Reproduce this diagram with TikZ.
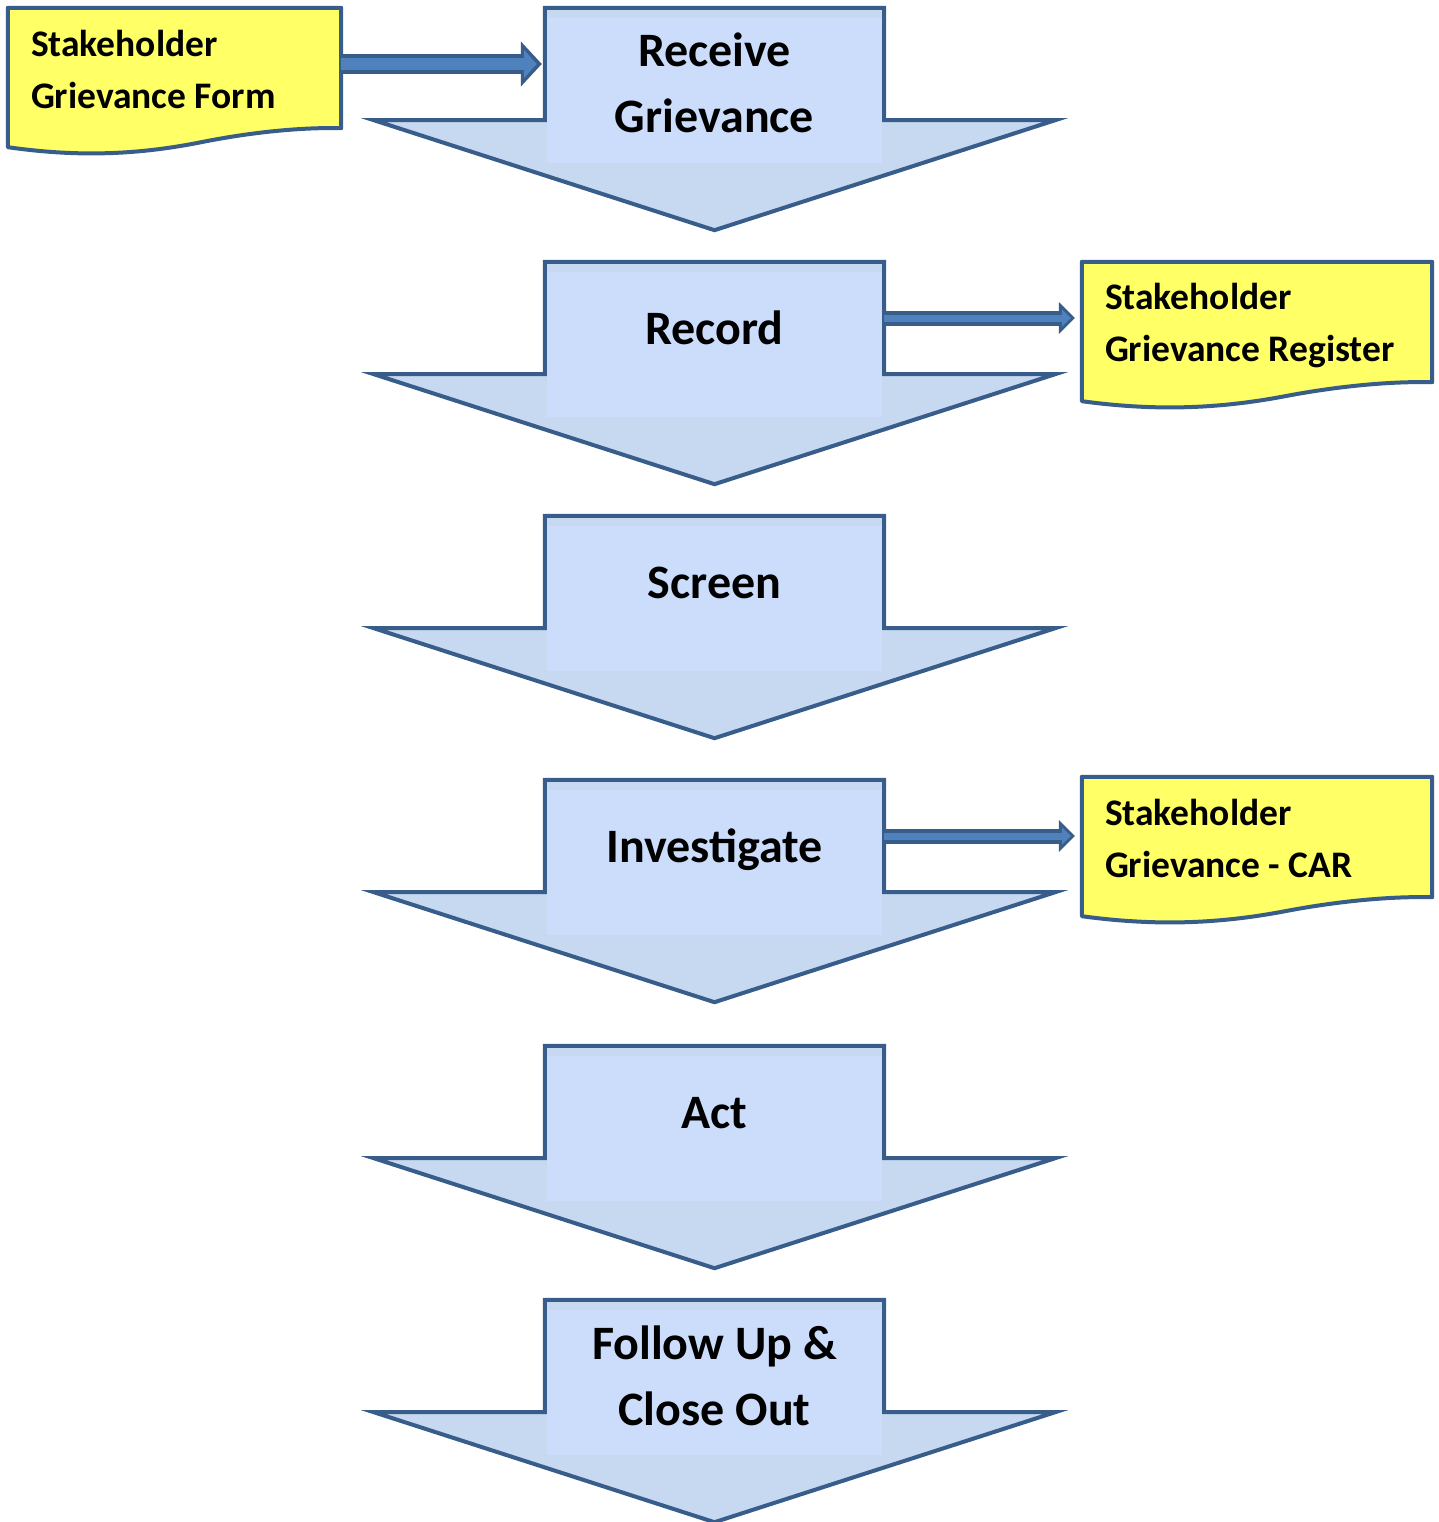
\documentclass[tikz,border=0pt]{standalone}
\usepackage{fontspec}
\setmainfont{Carlito}
\usepackage{tikz}
\usetikzlibrary{arrows.meta,calc}
\definecolor{stepedge}{HTML}{385D8A}
\definecolor{stephead}{HTML}{C6D9F1}
\definecolor{stepbody}{HTML}{CCDDFC}
\definecolor{docfill}{HTML}{FFFF66}
\definecolor{linkfill}{HTML}{4F81BD}
\tikzset{shaft style/.style = {%
  shape = rectangle,
  inner sep = 0pt,
  minimum width = 339pt,
  minimum height = 112pt
 },
 step text/.style = {%
  font = \fontsize{48}{66}\selectfont\bfseries,
  align = center,
  inner sep = 0pt,
  anchor = base
 },
 doc style/.style = {%
  shape = rectangle,
  inner sep = 0pt,
  minimum width = #1,
  minimum height = 140pt
 },
 doc text/.style = {%
  font = \fontsize{37.5}{52}\selectfont\bfseries,
  align = left,
  inner sep = 0pt,
  anchor = base west
 },
 big link/.style = {%
  draw = stepedge, line width = 20pt, shorten >= 3pt,
  -{Triangle[length=21pt,width=44pt]},
  postaction = {draw = linkfill, line width = 12pt, shorten >= 8pt,
   -{Triangle[length=13pt,width=28pt]}}
 },
 small link/.style = {%
  draw = stepedge, line width = 15pt, shorten >= 7pt,
  -{Triangle[length=16pt,width=31pt]},
  postaction = {draw = linkfill, line width = 7pt, shorten >= 11pt,
   -{Triangle[length=9pt,width=17pt]}}
 }
}
\newcommand\drawstep[1]{%
  \path[fill = stephead, draw = stepedge, line width = 4pt]
    (#1.north west) -- (#1.north east) -- (#1.south east)
    -- ([xshift=171pt]#1.south east) -- ([yshift=-110pt]#1.south)
    -- ([xshift=-171pt]#1.south west) -- (#1.south west) -- cycle;
  \fill[stepbody] ([shift={(2pt,-10pt)}]#1.north west)
    rectangle ([shift={(-2pt,-155pt)}]#1.north east);
}
\newcommand\drawdoc[1]{%
  \draw[stepedge, fill = docfill, line width = 4pt, line join = round]
    (#1.north west) -- (#1.north east) -- ($(#1.south east)+(0pt,20pt)$)
    .. controls ($(#1.south west)!0.88!(#1.south east)+(0pt,21pt)$)
    and ($(#1.south west)!0.73!(#1.south east)+(0pt,16pt)$)
    .. ($(#1.south west)!0.58!(#1.south east)+(0pt,6pt)$)
    .. controls ($(#1.south west)!0.37!(#1.south east)+(0pt,-8pt)$)
    and ($(#1.south west)!0.19!(#1.south east)+(0pt,-8pt)$)
    .. ($(#1.south west)+(0pt,1pt)$) -- cycle;
}

\begin{document}
\begin{tikzpicture}[x=1pt,y=-1pt]
      \useasboundingbox (0,0) rectangle (1439,1522);

      \node[shaft style] (recv) at (714.5,64) {};
      \node[shaft style] (rec) at (714.5,318) {};
      \node[shaft style] (scr) at (714.5,572) {};
      \node[shaft style] (inv) at (714.5,836) {};
      \node[shaft style] (act) at (714.5,1102) {};
      \node[shaft style] (fup) at (714.5,1356) {};
      \drawstep{recv}
      \drawstep{rec}
      \drawstep{scr}
      \drawstep{inv}
      \drawstep{act}
      \drawstep{fup}

      \node[step text] (recvtxt) at (714.5,133) {Receive\\Grievance};
      \node[step text] (rectxt) at (714.5,344) {Record};
      \node[step text] (scrtxt) at (714.5,598) {Screen};
      \node[step text] (invtxt) at (714.5,862) {Investigate};
      \node[step text] (acttxt) at (714.5,1128) {Act};
      \node[step text] (fuptxt) at (714.5,1425) {Follow Up \&\\Close Out};

      \node[doc style=333pt] (form) at (174.5,78) {};
      \node[doc style=350pt] (reg) at (1257,332) {};
      \node[doc style=350pt] (car) at (1257,847) {};
      \drawdoc{form}
      \drawdoc{reg}
      \drawdoc{car}

      \node[doc text] (formtxt) at ([shift={(23pt,-101pt)}]form.north west) {Stakeholder\\Grievance Form};
      \node[doc text] (regtxt) at ([shift={(23pt,-100pt)}]reg.north west) {Stakeholder\\Grievance Register};
      \node[doc text] (cartxt) at ([shift={(23pt,-101pt)}]car.north west) {Stakeholder\\Grievance - CAR};

      \draw[big link] (form.east |- recv.west) -- (recv.west);
      \draw[small link] (rec.east) -- (reg.west |- rec.east);
      \draw[small link] (inv.east) -- (car.west |- inv.east);
\end{tikzpicture}
\end{document}
